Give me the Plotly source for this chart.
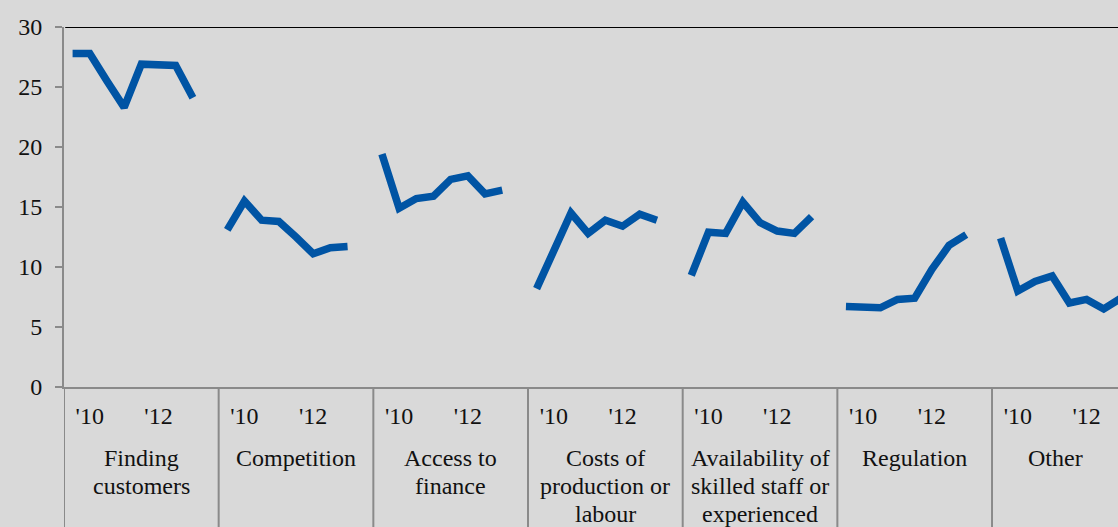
import plotly.graph_objects as go

# ---- data ----
groups = [["Finding", "customers"], ["Competition"], ["Access to", "finance"],
          ["Costs of", "production or", "labour"],
          ["Availability of", "skilled staff or", "experienced"],
          ["Regulation"], ["Other"]]
sub_labels = ["", "'10", "", "", "", "'12", "", "", ""]  # 8 periods + 1 spacer slot

finding_customers = [27.8, 27.8, 25.5, 23.3, 26.9, 26.9, 26.8, 24.1]
competition = [13.1, 15.5, 13.9, 13.8, 12.5, 11.1, 11.6, 11.7]
access_to_finance = [19.4, 14.9, 15.7, 15.9, 17.3, 17.6, 16.1, 16.4]
costs_of_production = [8.2, 11.4, 14.5, 12.8, 13.9, 13.4, 14.4, 13.9]
availability_of_staff = [9.3, 12.9, 12.8, 15.4, 13.7, 13.0, 12.8, 14.2]
regulation = [6.7, 6.7, 6.6, 7.3, 7.4, 9.8, 11.8, 12.7]
other = [12.4, 8.0, 8.8, 9.25, 7.0, 7.3, 6.5, 7.4]

series = [finding_customers, competition, access_to_finance, costs_of_production,
          availability_of_staff, regulation, other]

slots = len(sub_labels)
x_vals, y_vals = [], []
tickvals, ticktext = [], []
for g, vals in enumerate(series):
    for i in range(slots):
        idx = g * slots + i
        x_vals.append(idx)
        y_vals.append(vals[i] if i < len(vals) else None)
        if sub_labels[i]:
            tickvals.append(idx)
            ticktext.append(sub_labels[i])

x_min = -0.5
x_max = 60.83

fig = go.Figure()
fig.add_trace(go.Scatter(
    x=x_vals, y=y_vals, mode="lines", connectgaps=False,
    line=dict(color="#0054a4", width=7.5),
    hoverinfo="skip", showlegend=False,
))

FONT = "Liberation Serif, Times New Roman, serif"
GRAY = "#8a8a8a"
TXT = "#111111"
FS = 24

shapes = []
annotations = []
for g, lines in enumerate(groups):
    start = g * slots - 0.5
    end = start + slots
    shapes.append(dict(type="line", xref="x", yref="paper",
                       x0=start, x1=start, y0=0, y1=-0.4,
                       line=dict(color=GRAY, width=2), layer="above"))
    center = (start + min(end, x_max)) / 2
    for k, line_text in enumerate(lines):
        annotations.append(dict(x=center, y=0, xref="x", yref="paper",
                                yshift=-56 - 28 * k, yanchor="top", xanchor="center",
                                text=line_text, showarrow=False,
                                font=dict(family=FONT, size=FS, color=TXT)))

# top border line at y=30
shapes.append(dict(type="line", xref="x", yref="y", x0=x_min + 0.07, x1=x_max, y0=30, y1=30,
                   line=dict(color="#000000", width=2), layer="above"))

fig.update_layout(
    width=1118, height=527,
    margin=dict(l=64, r=0, t=27, b=140, pad=0),
    paper_bgcolor="#d9d9d9", plot_bgcolor="#d9d9d9",
    font=dict(family=FONT, size=FS, color=TXT),
    shapes=shapes, annotations=annotations,
    xaxis=dict(range=[x_min, x_max], showgrid=False, zeroline=False,
               tickmode="array", tickvals=tickvals, ticktext=ticktext,
               ticks="", ticklabelstandoff=6,
               showline=True, linecolor=GRAY, linewidth=2,
               tickfont=dict(family=FONT, size=FS, color=TXT)),
    yaxis=dict(range=[0, 30], dtick=5, showgrid=False, zeroline=False,
               ticks="outside", ticklen=7, tickcolor=GRAY, tickwidth=2,
               showline=True, linecolor=GRAY, linewidth=2,
               ticklabelstandoff=8,
               tickfont=dict(family=FONT, size=FS, color=TXT)),
)

fig.write_html("out.html", config={"displayModeBar": False},
               post_script="document.body.style.margin='0';")
